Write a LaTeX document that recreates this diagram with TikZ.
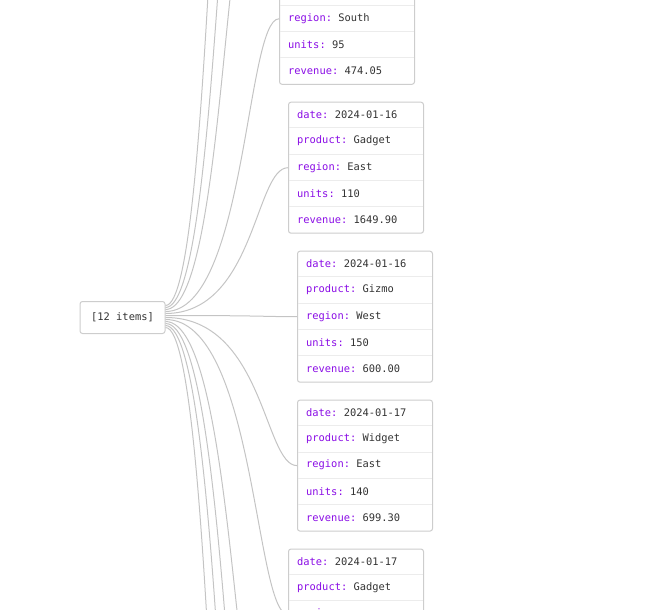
\documentclass[tikz,border=0pt]{standalone}
\usepackage{fontspec}
\setmonofont{DejaVu Sans Mono}
\usetikzlibrary{positioning,calc}
\definecolor{keyc}{HTML}{8A0CE6}
\definecolor{valc}{HTML}{333333}
\definecolor{edgec}{HTML}{C4C4C4}
\definecolor{boxc}{HTML}{CDCDCD}
\definecolor{sepc}{HTML}{ECECEC}
\tikzset{
  rec/.style={rectangle, rounded corners=2.5pt, minimum width=135pt, minimum height=131pt, inner sep=0pt, draw=boxc, fill=white, line width=1pt, anchor=north west},
  fld/.style={anchor=west, inner sep=0pt, font=\ttfamily\fontsize{10.4}{12}\selectfont, text=valc},
  arr/.style={rectangle, rounded corners=2.5pt, minimum width=85pt, minimum height=32pt, draw=boxc, fill=white, line width=1pt, font=\ttfamily\fontsize{10.4}{12}\selectfont, text=valc},
  ln/.style={draw=edgec, line width=1pt},
  sepl/.style={draw=sepc, line width=1pt}
}
% name, top left corner, first row, key/value rows
\newcommand{\record}[4]{%
  \node[rec] (#1) at #2 {};
  \foreach \r in {1,...,4}
    \draw[sepl] ($(#1.north west)+(1,26.2*\r)$) -- ($(#1.north east)+(-1,26.2*\r)$);
  \foreach \key/\val [count=\r from #3] in {#4}
    \node[fld] (#1-\r) at ($(#1.north west)+(9,26.2*\r-13.1)$) {\textcolor{keyc}{\key:} \val};
}

\begin{document}
\begin{tikzpicture}[x=1pt,y=-1pt]
	\useasboundingbox (0,0) rectangle (648,610);
	\clip (0,0) rectangle (648,610);
	\node[arr] (root) at (122.5,317.5) {\relax[12 items]};
	
	\record{c1}{(279,-47.2)}{3}{region/South, units/95, revenue/474.05}
	\record{c2}{(288,101.7)}{1}{date/2024-01-16, product/Gadget, region/East, units/110, revenue/1649.90}
	\record{c3}{(297,250.7)}{1}{date/2024-01-16, product/Gizmo, region/West, units/150, revenue/600.00}
	\record{c4}{(297,399.6)}{1}{date/2024-01-17, product/Widget, region/East, units/140, revenue/699.30}
	\record{c5}{(288,548.5)}{1}{date/2024-01-17, product/Gadget, region/}
	
	% items outside the view
	\coordinate (i1) at (246,-428.4);
	\coordinate (i2) at (252,-279.5);
	\coordinate (i3) at (257,-130.6);
	\coordinate (i9) at (267,763.9);
	\coordinate (i10) at (262,912.8);
	\coordinate (i11) at (257,1061.7);
	\coordinate (i12) at (250,1210.6);
	%
	\foreach \dst [count=\k] in {i1,i2,i3,c1.west,c2.west,c3.west,c4.west,c5.west,i9,i10,i11,i12} {
		\coordinate (s\k) at ($(root.north east)+(0,2.5+2*\k)$);
		\coordinate (m\k) at ($(\dst)+(-33,0)$);
		\draw[ln] (s\k) .. controls (m\k |- s\k) and (m\k |- \dst) .. (\dst);
	}
\end{tikzpicture}
\end{document}
